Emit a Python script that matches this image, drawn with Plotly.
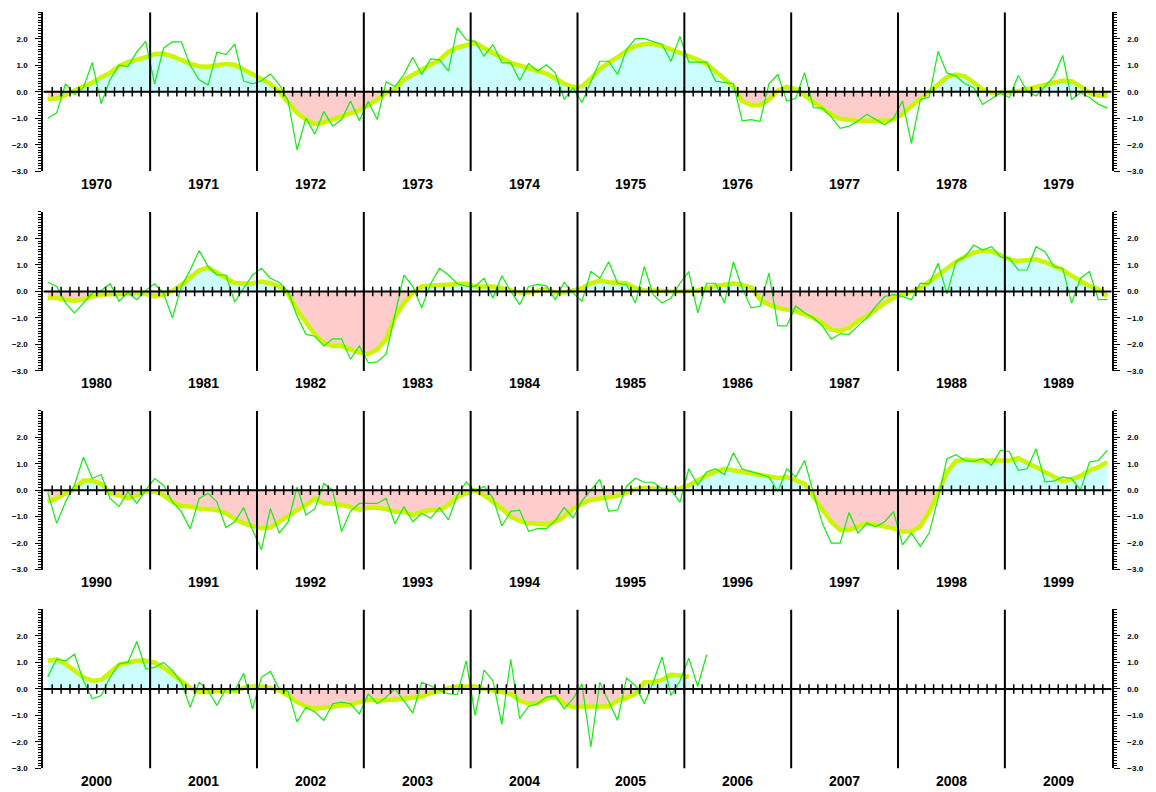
import plotly.graph_objects as go

# Monthly index values, one row per year (Jan..Dec)
raw_1970s = [
    -1.0, -0.8, 0.3, -0.1, 0.15, 1.1, -0.45, 0.45, 1.0, 0.95, 1.5, 1.9,
    0.3, 1.65, 1.88, 1.88, 1.0, 0.45, 0.25, 1.5, 1.4, 1.8, 0.4, 0.3,
    0.42, 0.67, 0.27, -0.35, -2.2, -1.0, -1.6, -0.75, -1.3, -1.05, -0.35, -1.1,
    -0.37, -1.05, 0.37, 0.2, 0.65, 1.3, 0.65, 1.24, 1.2, 0.78, 2.42, 1.96,
    1.9, 1.34, 1.78, 1.09, 1.09, 0.42, 1.06, 0.78, 1.02, 0.71, -0.29, 0.15,
    -0.41, 0.4, 1.15, 1.15, 0.65, 1.59, 2.0, 2.0, 1.9, 1.78, 1.15, 2.09,
    1.12, 1.12, 1.12, 0.4, 0.35, 0.3, -1.1, -1.05, -1.12, 0.3, 0.65, -0.35,
    -0.25, 0.72, -0.6, -0.62, -0.95, -1.38, -1.3, -1.1, -0.85, -1.05, -1.25, -1.0,
    -0.35, -1.95, -0.3, -0.2, 1.52, 0.7, 0.6, 0.3, 0.15, -0.48, -0.25, -0.05,
    -0.22, 0.61, 0.02, -0.16, 0.2, 0.58, 1.37, -0.29, -0.04, -0.22, -0.47, -0.62,
]
smooth_1970s = [
    -0.27, -0.26, -0.12, 0.05, 0.2, 0.34, 0.55, 0.71, 0.96, 1.12, 1.2, 1.3,
    1.42, 1.43, 1.34, 1.2, 1.05, 0.96, 0.94, 1.0, 1.05, 1.02, 0.84, 0.65,
    0.46, 0.3, 0.0, -0.4, -0.8, -1.05, -1.22, -1.16, -1.05, -0.92, -0.8, -0.7,
    -0.5, -0.3, -0.05, 0.12, 0.45, 0.65, 0.84, 1.02, 1.2, 1.5, 1.67, 1.77,
    1.84, 1.65, 1.46, 1.28, 1.09, 0.99, 0.9, 0.8, 0.68, 0.5, 0.3, 0.18,
    0.2, 0.5, 0.85, 1.1, 1.3, 1.55, 1.72, 1.8, 1.8, 1.72, 1.6, 1.45,
    1.34, 1.21, 1.05, 0.75, 0.45, 0.2, -0.35, -0.5, -0.5, -0.3, 0.05, 0.18,
    0.1, -0.15, -0.4, -0.62, -0.85, -1.02, -1.08, -1.1, -1.1, -1.1, -1.1, -1.05,
    -0.85, -0.55, -0.28, 0.0, 0.3, 0.55, 0.65, 0.58, 0.35, 0.08, -0.05, -0.05,
    -0.03, 0.02, 0.1, 0.2, 0.3, 0.38, 0.42, 0.4, 0.2, -0.05, -0.15, -0.15,
]

raw_1980s = [
    0.35, 0.19, -0.44, -0.81, -0.44, -0.06, 0.04, 0.29, -0.37, -0.04, -0.31, 0.04,
    0.29, -0.06, -1.0, 0.19, 0.81, 1.54, 0.94, 0.62, 0.62, -0.4, 0.12, 0.62,
    0.87, 0.5, 0.34, 0.0, -0.94, -1.62, -1.69, -2.06, -1.79, -1.79, -2.56, -2.06,
    -2.69, -2.66, -2.37, -0.87, 0.62, 0.19, -0.62, 0.29, 0.87, 0.62, 0.29, 0.2,
    0.19, 0.5, -0.25, 0.59, 0.0, -0.5, 0.19, 0.27, 0.21, -0.31, 0.34, -0.06,
    -0.37, 0.75, 0.5, 1.12, 0.31, 0.25, -0.44, 0.94, -0.12, -0.44, -0.25, 0.31,
    0.75, -0.81, 0.31, 0.31, -0.44, 1.12, 0.12, -0.62, -0.56, 0.69, -1.3, -1.3,
    -0.55, -0.8, -1.0, -1.3, -1.8, -1.6, -1.62, -1.3, -1.0, -0.56, -0.19, -0.12,
    -0.19, -0.31, 0.31, 0.29, 1.06, -0.09, 1.12, 1.31, 1.75, 1.56, 1.69, 1.31,
    1.25, 0.81, 0.81, 1.69, 1.5, 0.94, 0.87, -0.44, 0.5, 0.75, -0.31, -0.31,
]
smooth_1980s = [
    -0.25, -0.25, -0.31, -0.35, -0.31, -0.19, -0.12, -0.09, -0.1, -0.09, -0.06, -0.09,
    -0.19, -0.12, 0.02, 0.25, 0.55, 0.8, 0.9, 0.72, 0.5, 0.32, 0.3, 0.31,
    0.37, 0.31, 0.19, -0.09, -0.69, -1.19, -1.62, -1.94, -2.06, -2.06, -2.19, -2.31,
    -2.37, -2.19, -1.81, -0.95, -0.45, -0.05, 0.2, 0.22, 0.25, 0.3, 0.32, 0.3,
    0.19, 0.21, 0.19, 0.12, 0.04, -0.04, -0.04, 0.04, 0.09, -0.04, -0.04, 0.04,
    0.12, 0.31, 0.41, 0.35, 0.31, 0.31, 0.12, 0.04, 0.04, 0.0, 0.0, 0.0,
    0.0, 0.04, 0.12, 0.21, 0.25, 0.31, 0.25, 0.15, -0.3, -0.5, -0.62, -0.69,
    -0.75, -0.87, -1.0, -1.19, -1.44, -1.5, -1.37, -1.12, -0.94, -0.69, -0.44, -0.25,
    -0.12, 0.0, 0.12, 0.37, 0.62, 0.87, 1.12, 1.31, 1.46, 1.54, 1.52, 1.37,
    1.21, 1.15, 1.17, 1.21, 1.11, 0.96, 0.81, 0.59, 0.41, 0.21, 0.09, -0.19,
]

raw_1990s = [
    -0.09, -1.25, -0.44, 0.19, 1.25, 0.44, 0.59, -0.31, -0.62, -0.06, -0.5, 0.0,
    0.44, 0.19, -0.44, -0.81, -1.46, -0.31, -0.12, -0.44, -1.41, -1.19, -0.66, -1.5,
    -2.25, -0.69, -1.62, -1.2, 0.12, -0.94, -0.7, 0.25, 0.0, -1.56, -0.8, -0.5,
    -0.5, -0.5, -0.31, -1.27, -0.62, -1.19, -0.87, -1.06, -0.66, -1.12, -0.19, 0.31,
    -0.05, 0.15, -0.3, -1.35, -0.8, -0.75, -1.55, -1.45, -1.45, -1.15, -0.65, -1.05,
    -0.4, 0.0, 0.41, -0.8, -0.75, 0.15, 0.45, 0.3, 0.3, 0.05, 0.0, -0.45,
    0.81, 0.19, 0.69, 0.81, 0.59, 1.41, 0.8, 0.7, 0.6, 0.5, -0.06, 0.81,
    0.5, 1.12, -0.1, -1.25, -2.0, -2.0, -0.84, -1.62, -1.25, -1.37, -1.19, -0.81,
    -2.06, -1.62, -2.12, -1.62, -0.31, 1.19, 1.34, 1.12, 1.09, 1.19, 0.94, 1.5,
    1.46, 0.75, 0.81, 1.56, 0.31, 0.34, 0.5, 0.44, 0.0, 1.06, 1.12, 1.5,
]
smooth_1990s = [
    -0.44, -0.31, -0.12, 0.04, 0.37, 0.37, 0.25, -0.12, -0.19, -0.31, -0.19, -0.04,
    -0.06, -0.19, -0.44, -0.6, -0.62, -0.69, -0.71, -0.75, -0.87, -1.09, -1.25, -1.35,
    -1.44, -1.41, -1.19, -0.94, -0.75, -0.56, -0.31, -0.5, -0.5, -0.56, -0.62, -0.75,
    -0.66, -0.66, -0.71, -0.81, -0.81, -0.94, -0.81, -0.75, -0.75, -0.56, -0.25, -0.12,
    0.0, -0.19, -0.44, -0.69, -1.0, -1.16, -1.25, -1.29, -1.29, -1.19, -1.0, -0.7,
    -0.5, -0.37, -0.31, -0.25, -0.21, -0.09, 0.04, 0.09, 0.06, 0.04, 0.0, 0.06,
    0.19, 0.37, 0.56, 0.69, 0.81, 0.75, 0.69, 0.62, 0.54, 0.5, 0.46, 0.5,
    0.37, 0.25, -0.25, -0.75, -1.19, -1.5, -1.5, -1.37, -1.25, -1.31, -1.37, -1.44,
    -1.56, -1.56, -1.37, -0.81, -0.12, 0.69, 1.09, 1.16, 1.12, 1.12, 1.16, 1.16,
    1.12, 1.21, 1.06, 0.87, 0.69, 0.5, 0.34, 0.41, 0.54, 0.75, 0.87, 1.06,
]

raw_2000s = [
    0.46, 1.12, 1.06, 1.31, 0.31, -0.37, -0.25, 0.44, 0.94, 1.0, 1.79, 0.75,
    0.81, 1.0, 0.69, 0.25, -0.69, 0.25, -0.06, -0.62, 0.0, -0.06, 0.59, -0.75,
    0.44, 0.66, 0.0, -0.09, -1.25, -0.69, -0.87, -1.19, -0.56, -0.5, -0.56, -0.94,
    -0.19, -0.56, -0.31, 0.0, -0.45, -0.91, 0.25, 0.12, -0.06, -0.19, -0.21, 1.06,
    -1.0, 0.71, 0.31, -1.34, 1.12, -1.12, -0.66, -0.56, -0.31, -0.25, -0.75, -0.37,
    0.19, -2.19, 0.25, -0.44, -1.19, 0.41, 0.12, -0.56, 0.25, 1.21, -0.25, 0.3,
    1.16, 0.09, 1.29,
]
smooth_2000s = [
    1.06, 1.12, 0.94, 0.69, 0.44, 0.31, 0.34, 0.62, 0.91, 1.0, 1.06, 1.06,
    1.0, 0.81, 0.56, 0.31, 0.04, -0.12, -0.12, -0.06, -0.09, -0.09, 0.04, 0.09,
    0.09, 0.04, -0.06, -0.25, -0.5, -0.66, -0.75, -0.71, -0.69, -0.66, -0.59, -0.5,
    -0.41, -0.44, -0.44, -0.41, -0.37, -0.35, -0.29, -0.16, -0.09, 0.04, 0.09, 0.09,
    0.09, 0.0, -0.04, -0.12, -0.19, -0.44, -0.56, -0.54, -0.37, -0.29, -0.56, -0.69,
    -0.66, -0.66, -0.66, -0.66, -0.44, -0.34, -0.19, 0.25, 0.25, 0.34, 0.54, 0.5,
    0.46,
]

decade_starts = [1970, 1980, 1990, 2000]
raw_series = [raw_1970s, raw_1980s, raw_1990s, raw_2000s]
smooth_series = [smooth_1970s, smooth_1980s, smooth_1990s, smooth_2000s]
y_tick_values = [-3, -2, -1, 0, 1, 2]

# Page geometry (pixels)
W, H = 1156, 792
X_LEFT, X_RIGHT = 43.3, 1111.7
ZERO_ROWS = [92.3, 293.3, 493.3, 693.3]
HALF_SPAN = 80.0  # pixels from 0 to +/-3

RAW_COLOR = "#11ee11"
SMOOTH_COLOR = "#ccf500"
POS_FILL = "#ccffff"
NEG_FILL = "#ffcccc"
FONT = "Liberation Sans, Arial, Helvetica, sans-serif"


def with_crossings(xs, ys):
    """Insert zero-crossing points so positive/negative fills meet exactly at 0."""
    ox, oy = [], []
    for i, (x, y) in enumerate(zip(xs, ys)):
        if i > 0:
            y0 = ys[i - 1]
            if y0 * y < 0:
                x0 = xs[i - 1]
                xc = x0 + (x - x0) * y0 / (y0 - y)
                ox.append(xc)
                oy.append(0.0)
        ox.append(x)
        oy.append(y)
    return ox, oy


fig = go.Figure()
layout = dict(
    width=W, height=H, margin=dict(l=0, r=0, t=0, b=0),
    paper_bgcolor="white", plot_bgcolor="white", showlegend=False,
    font=dict(family=FONT, color="black"),
)
annotations = []

for k, (start, raw, smooth) in enumerate(zip(decade_starts, raw_series, smooth_series)):
    top = ZERO_ROWS[k] - HALF_SPAN
    bottom = ZERO_ROWS[k] + HALF_SPAN
    ydom = [1 - bottom / H, 1 - top / H]
    sfx = "" if k == 0 else str(k + 1)
    xa, ya = "x" + sfx, "y" + sfx
    ya_right_n = k + 5
    ya_right = "y" + str(ya_right_n)

    layout["xaxis" + sfx] = dict(
        domain=[X_LEFT / W, X_RIGHT / W], range=[0, 120], visible=False,
        anchor=ya, fixedrange=True,
    )
    axis_common = dict(
        range=[-3, 3], showgrid=False, zeroline=False, showline=True,
        linecolor="black", linewidth=2, ticks="outside", ticklen=6,
        tickwidth=1, tickcolor="black", tickmode="array",
        tickvals=y_tick_values, tickformat=".1f",
        tickfont=dict(family=FONT, size=8, color="black", weight="bold"),
        minor=dict(dtick=0.1, tick0=0, ticks="outside", ticklen=3,
                   tickwidth=1, tickcolor="black", showgrid=False),
        ticklabelstandoff=6, fixedrange=True,
    )
    layout["yaxis" + sfx] = dict(domain=ydom, anchor=xa, side="left", **axis_common)
    layout["yaxis" + str(ya_right_n)] = dict(
        anchor=xa, side="right", overlaying=ya, **axis_common
    )

    # month centres
    xs_raw = [m + 0.5 for m in range(len(raw))]
    xs_s = [m + 0.5 for m in range(len(smooth))]

    fx, fy = with_crossings(xs_s, smooth)
    fig.add_trace(go.Scatter(
        x=fx, y=[max(v, 0.0) for v in fy], xaxis=xa, yaxis=ya, mode="lines",
        line=dict(width=0), fill="tozeroy", fillcolor=POS_FILL, hoverinfo="skip",
    ))
    fig.add_trace(go.Scatter(
        x=fx, y=[min(v, 0.0) for v in fy], xaxis=xa, yaxis=ya, mode="lines",
        line=dict(width=0), fill="tozeroy", fillcolor=NEG_FILL, hoverinfo="skip",
    ))
    fig.add_trace(go.Scatter(
        x=xs_s, y=smooth, xaxis=xa, yaxis=ya, mode="lines",
        line=dict(color=SMOOTH_COLOR, width=4.5), hoverinfo="skip",
    ))
    fig.add_trace(go.Scatter(
        x=xs_raw, y=raw, xaxis=xa, yaxis=ya, mode="lines",
        line=dict(color=RAW_COLOR, width=1.2), hoverinfo="skip",
    ))

    # zero line and year separators
    lx, ly = [0, 120, None], [0, 0, None]
    for yr in range(1, 10):
        lx += [12 * yr, 12 * yr, None]
        ly += [-3, 3, None]
    fig.add_trace(go.Scatter(
        x=lx, y=ly, xaxis=xa, yaxis=ya, mode="lines",
        line=dict(color="black", width=2), hoverinfo="skip",
    ))
    # monthly ticks across the zero line
    tx, ty = [], []
    for m in range(1, 120):
        tx += [m, m, None]
        ty += [-0.18, 0.18, None]
    fig.add_trace(go.Scatter(
        x=tx, y=ty, xaxis=xa, yaxis=ya, mode="lines",
        line=dict(color="black", width=1.5), hoverinfo="skip",
    ))
    # dummy trace so the right-hand axis is drawn
    fig.add_trace(go.Scatter(
        x=[None], y=[None], xaxis=xa, yaxis=ya_right, mode="lines",
        hoverinfo="skip",
    ))

    for j in range(10):
        annotations.append(dict(
            x=12 * j + 6, xref=xa, y=1 - (bottom + 12.5) / H, yref="paper",
            text=str(start + j), showarrow=False, xanchor="center",
            yanchor="middle",
            font=dict(family=FONT, size=14, color="black", weight="bold"),
        ))

layout["annotations"] = annotations
fig.update_layout(**layout)
fig.write_html("out.html")
